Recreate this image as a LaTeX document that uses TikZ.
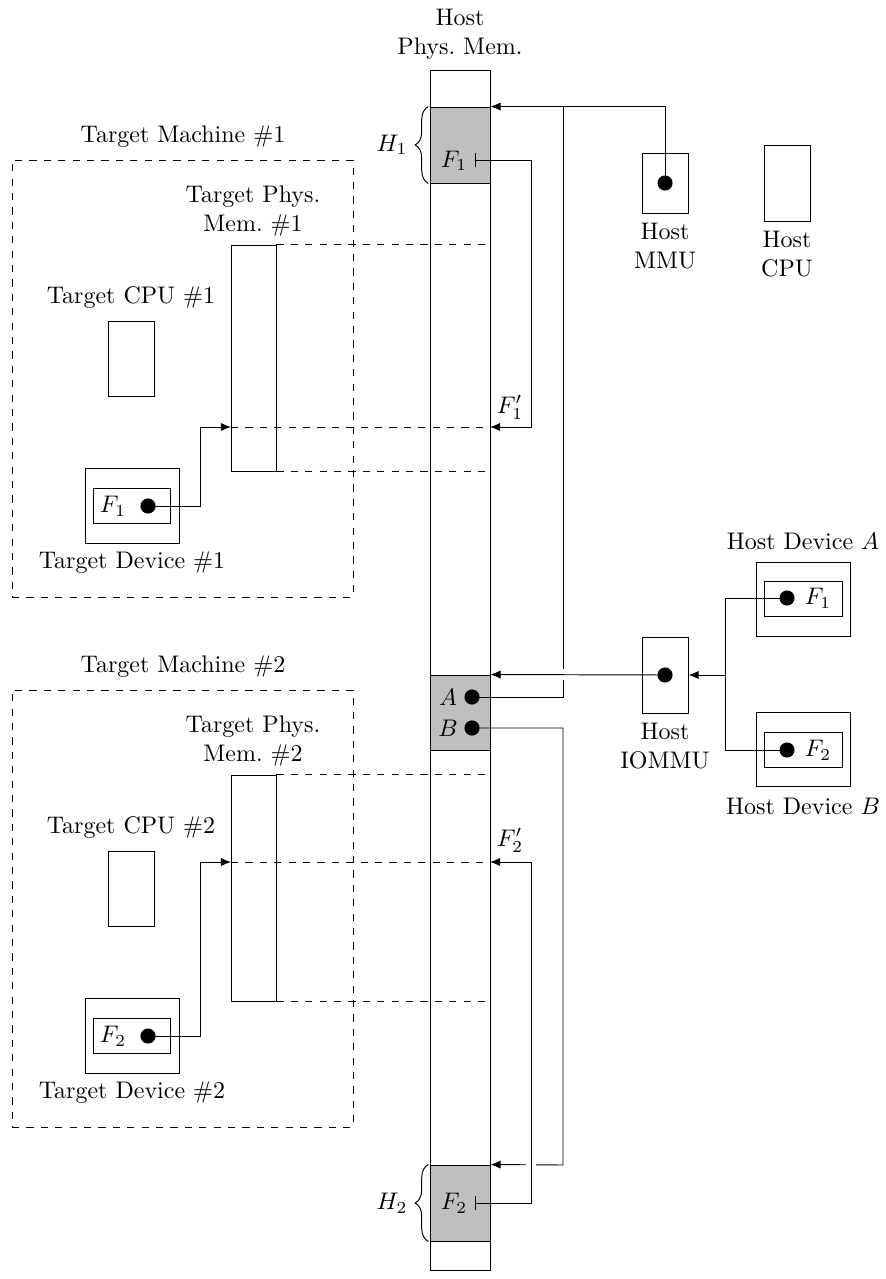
\documentclass[tikz,border=0pt]{standalone}
\usetikzlibrary{arrows.meta,decorations.pathreplacing}
\newcommand{\pxu}{0.41667pt}
\begin{document}
\begin{tikzpicture}[x=0.41667pt,y=-0.41667pt,
  bx/.style 2 args={draw,rectangle,inner sep=0pt,minimum width={#1*\pxu},minimum height={#2*\pxu}},
  shaded/.style={fill=black!25},
  dot/.style={circle,fill=black,inner sep=0pt,minimum size=6.3pt},
  lbl/.style={inner sep=0pt,align=center},
  arr/.style={-{Latex[length=4.2pt,width=3.4pt]}},
  tickarr/.style={{Bar[width=5.5pt]}-{Latex[length=4.2pt,width=3.4pt]}},
  brc/.style={decorate,decoration={brace,amplitude=5.5pt}}]
\useasboundingbox (0,0) rectangle (885,1279);

% ---------- Host physical memory ----------
\node[bx={60}{1200}] (hm) at (460,670) {};
\node[lbl] (hmlbl) at (460,34) {Host\\Phys.\ Mem.};
\node[bx={60}{76},shaded] (H1) at (460,145) {};
\node[bx={60}{75},shaded] (AB) at (460,712.5) {};
\node[bx={60}{76},shaded] (H2) at (460,1203) {};
\draw[brc] ([xshift=-0.5pt]H1.south west) -- ([xshift=-0.5pt]H1.north west);
\draw[brc] ([xshift=-0.5pt]H2.south west) -- ([xshift=-0.5pt]H2.north west);
\node[lbl] (h1l) at (392,145) {$H_1$};
\node[lbl] (h2l) at (392,1203) {$H_2$};
\node[lbl] (f1h) at (454,161) {$F_1$};
\node[lbl] (f2h) at (454,1203) {$F_2$};
\node[lbl] (al) at (448,697) {$A$};
\node[lbl] (bl) at (448,728) {$B$};
\coordinate (t1) at (475,160);
\coordinate (t2) at (475,1203);

% ---------- Host MMU / CPU ----------
\node[bx={46}{60}] (mmu) at (665,183) {};
\node[lbl] (mmul) at (665,246) {Host\\MMU};
\node[bx={46}{76}] (cpu) at (787,183) {};
\node[lbl] (cpul) at (787,254) {Host\\CPU};

% ---------- Host IOMMU & devices ----------
\node[bx={46}{76}] (iommu) at (665,675) {};
\node[lbl] (iommul) at (665,746) {Host\\IOMMU};
\node[bx={94}{74}] (hdA) at (803,599) {};
\node[bx={78}{35}] (hdAi) at (803,598.5) {};
\node[lbl] (hdAl) at (803,541) {Host Device $A$};
\node[lbl] (hdAf) at (818,598) {$F_1$};
\node[bx={94}{74}] (hdB) at (803,749) {};
\node[bx={78}{35}] (hdBi) at (803,749.5) {};
\node[lbl] (hdBl) at (803,806) {Host Device $B$};
\node[lbl] (hdBf) at (818,750) {$F_2$};

% ---------- Target machine 1 ----------
\node[bx={341}{437},dashed] (tm1) at (182.5,378.5) {};
\node[lbl] (tm1l) at (183,137) {Target Machine \#1};
\node[bx={45}{226}] (tp1) at (253.5,358) {};
\node[lbl] (tp1l) at (253,211) {Target Phys.\\Mem.\ \#1};
\node[bx={46}{75}] (tc1) at (131,358.5) {};
\node[lbl] (tc1l) at (131,298) {Target CPU \#1};
\node[bx={94}{75}] (td1) at (132,505.5) {};
\node[bx={77}{35}] (td1i) at (131.5,505.5) {};
\node[lbl] (td1f) at (113,506) {$F_1$};
\node[lbl] (td1l) at (132,563) {Target Device \#1};

% ---------- Target machine 2 ----------
\node[bx={341}{437},dashed] (tm2) at (182.5,908.5) {};
\node[lbl] (tm2l) at (183,667) {Target Machine \#2};
\node[bx={45}{226}] (tp2) at (253.5,888) {};
\node[lbl] (tp2l) at (253,741) {Target Phys.\\Mem.\ \#2};
\node[bx={46}{75}] (tc2) at (131,888.5) {};
\node[lbl] (tc2l) at (131,828) {Target CPU \#2};
\node[bx={94}{75}] (td2) at (132,1035.5) {};
\node[bx={77}{35}] (td2i) at (131.5,1035.5) {};
\node[lbl] (td2f) at (113,1036) {$F_2$};
\node[lbl] (td2l) at (132,1093) {Target Device \#2};

% ---------- dashed mappings ----------
\coordinate (m1) at (231,427);
\coordinate (m1r) at (490,427);
\coordinate (m2) at (231,862);
\coordinate (m2r) at (490,862);
\draw[dashed] (tp1.north east) -- (tp1.north east -| hm.east);
\draw[dashed] (tp1.south east) -- (tp1.south east -| hm.east);
\draw[dashed] (m1) -- (m1r);
\draw[dashed] (tp2.north east) -- (tp2.north east -| hm.east);
\draw[dashed] (tp2.south east) -- (tp2.south east -| hm.east);
\draw[dashed] (m2) -- (m2r);

% ---------- dots ----------
\node[dot] (dA) at (472,697) {};
\node[dot] (dB) at (472,728) {};
\node[dot] (dM) at (665,183) {};
\node[dot] (dI) at (665,675) {};
\node[dot] (dHA) at (787,598) {};
\node[dot] (dHB) at (787,750) {};
\node[dot] (dT1) at (148,506) {};
\node[dot] (dT2) at (148,1036) {};

% ---------- connectors ----------
\coordinate (k1) at (200,427);
\coordinate (k2) at (200,862);
\draw[arr] (dT1.center) -| (k1) -- (m1);
\draw[arr] (dT2.center) -| (k2) -- (m2);

\coordinate (f1c) at (531,427);
\draw[tickarr] (t1) -| (f1c) -- (m1r);
\node[lbl] (f1p) at (510,407) {$F_1'$};
\node[lbl] (f2p) at (510,840) {$F_2'$};

\coordinate (atop) at (563,107);
\draw (dA.center) -| (atop);
\draw[arr] (dM.center) |- (H1.north east);
\fill[white] (559,669) rectangle (567,680);
\draw[arr] (dI.center) -- (AB.north east);

\coordinate (jn) at (725,675);
\draw (dHA.center) -| (jn) |- (dHB.center);
\draw[arr] (jn) -- (iommu.east);

\coordinate (bb) at (563,1165);
\draw[arr] (dB.center) -| (bb) -- (H2.north east);
\fill[white] (526,1161) rectangle (536,1169);
\coordinate (f2c) at (531,862);
\draw[tickarr] (t2) -| (f2c) -- (m2r);
\end{tikzpicture}
\end{document}
